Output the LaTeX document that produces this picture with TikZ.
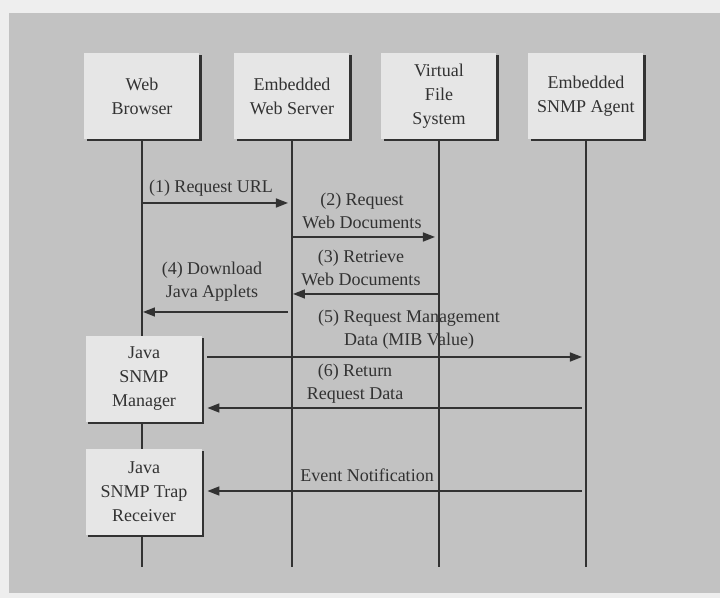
\documentclass[tikz,border=0pt]{standalone}
\usepackage{fontspec}
\setmainfont{Liberation Serif}
\usetikzlibrary{arrows.meta, shadows}
\definecolor{pagewhite}{RGB}{238,238,238}
\definecolor{panelgray}{RGB}{194,194,194}
\definecolor{boxgray}{RGB}{230,230,230}
\definecolor{inkgray}{RGB}{50,50,50}

\begin{document}
\begin{tikzpicture}[x=0.5pt, y=-0.5pt,
  entity/.style={fill=boxgray, minimum width=57.5pt, minimum height=43pt, inner sep=0pt, align=center, text=inkgray, font=\fontsize{9}{12}\selectfont, drop shadow={shadow xshift=1.2pt, shadow yshift=-1.2pt, fill=inkgray, opacity=1}},
  lifeline/.style={line width=0.6pt, draw=inkgray},
  msg/.style={line width=0.8pt, draw=inkgray, shorten >=2pt, -{Triangle[length=6pt, width=4.5pt]}},
  msglabel/.style={text=inkgray, align=center, inner sep=0pt, font=\fontsize{9}{11.5}\selectfont}]
  \useasboundingbox (0,0) rectangle (720,598);
  \fill[pagewhite] (0,0) rectangle (720,598);
  \fill[panelgray] (9,13) rectangle (720,593);

  \node[entity] (browser) at (142,96) {Web\\Browser};
  \node[entity] (server) at (292,96) {Embedded\\Web Server};
  \node[entity] (vfs) at (439,96) {Virtual\\File\\System};
  \node[entity] (agent) at (586,96) {Embedded\\SNMP Agent};

  \coordinate (browserend) at (142,567);
  \coordinate (serverend) at (292,567);
  \coordinate (vfsend) at (439,567);
  \coordinate (agentend) at (586,567);
  \draw[lifeline] (browser.south) -- (browserend);
  \draw[lifeline] (server.south) -- (serverend);
  \draw[lifeline] (vfs.south) -- (vfsend);
  \draw[lifeline] (agent.south) -- (agentend);

  \node[entity, minimum width=58pt] (manager) at (144,379) {Java\\SNMP\\Manager};
  \node[entity, minimum width=58pt] (trap) at (144,492) {Java\\SNMP Trap\\Receiver};

  \draw[msg] (browser.south |- 0,203) -- (server.south |- 0,203);
  \node[msglabel] (l1) at (211,188) {(1) Request URL};
  \draw[msg] (server.south |- 0,237) -- (vfs.south |- 0,237);
  \node[msglabel] (l2) at (362,211) {(2) Request\\Web Documents};
  \draw[msg, shorten >=0.5pt] (vfs.south |- 0,294) -- (server.south |- 0,294);
  \node[msglabel] (l3) at (361,268) {(3) Retrieve\\Web Documents};
  \draw[msg, shorten <=2pt, shorten >=0.5pt] (server.south |- 0,312) -- (browser.south |- 0,312);
  \node[msglabel] (l4) at (212,282) {(4) Download\\Java Applets};
  \draw[msg, shorten <=2.5pt] (manager.east |- 0,357) -- (agent.south |- 0,357);
  \node[msglabel] (l5) at (409,330) {(5) Request Management\\Data (MIB Value)};
  \draw[msg, shorten <=2pt, shorten >=2.5pt] (agent.south |- 0,408) -- (manager.east |- 0,408);
  \node[msglabel] (l6) at (355,384) {(6) Return\\Request Data};
  \draw[msg, shorten <=2pt, shorten >=2.5pt] (agent.south |- 0,491) -- (trap.east |- 0,491);
  \node[msglabel] (l7) at (367,475) {Event Notification};
\end{tikzpicture}
\end{document}
